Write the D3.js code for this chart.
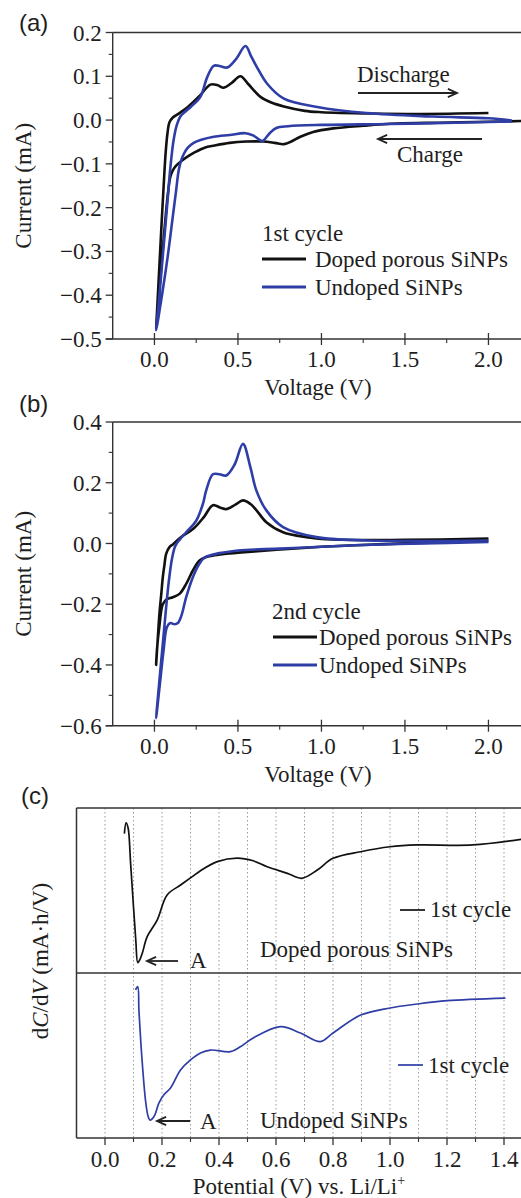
<!DOCTYPE html>
<html>
<head>
<meta charset="utf-8">
<script src="https://cdn.jsdelivr.net/npm/d3@7"></script>
<style>
  body { margin: 0; background: #fff; }
  svg text { font-family: 'Liberation Serif', 'Times New Roman', serif; fill: #1e1e1e; }
  .letter { font-family: 'Liberation Sans', Arial, sans-serif !important; }
</style>
</head>
<body>
<div id="chart"></div>
<script>
// ---- data ----
// CV curves: [voltage V, current mA], cathodic sweep then anodic sweep
const voltTicks = [0, 0.5, 1.0, 1.5, 2.0];
const voltMinor = [0.25, 0.75, 1.25, 1.75];
const aCurrentTicks = [0.2, 0.1, 0.0, -0.1, -0.2, -0.3, -0.4, -0.5];
const aCurrentMinor = [0.15, 0.05, -0.05, -0.15, -0.25, -0.35, -0.45];
const bCurrentTicks = [0.4, 0.2, 0.0, -0.2, -0.4, -0.6];
const bCurrentMinor = [0.3, 0.1, -0.1, -0.3, -0.5];

const aDoped = [
  [2.2,-0.002],[2.0,-0.004],[1.7,-0.006],[1.45,-0.008],[1.25,-0.013],[1.07,-0.019],[0.95,-0.027],
  [0.874,-0.038],[0.82,-0.049],[0.776,-0.055],[0.72,-0.052],[0.65,-0.049],[0.55,-0.049],[0.45,-0.052],
  [0.36,-0.058],[0.3,-0.063],[0.24,-0.074],[0.2,-0.083],[0.16,-0.094],[0.13,-0.104],[0.11,-0.115],
  [0.095,-0.13],[0.08,-0.17],[0.06,-0.25],[0.04,-0.34],[0.02,-0.43],[0.01,-0.475],
  [0.015,-0.44],[0.03,-0.33],[0.045,-0.22],[0.058,-0.13],[0.068,-0.07],[0.078,-0.03],[0.09,-0.005],
  [0.11,0.006],[0.15,0.016],[0.2,0.03],[0.27,0.055],[0.335,0.081],[0.375,0.08],[0.415,0.074],
  [0.46,0.084],[0.515,0.1],[0.56,0.083],[0.635,0.053],[0.7,0.04],[0.775,0.031],[0.9,0.021],
  [1.0,0.018],[1.3,0.015],[1.6,0.014],[2.0,0.016]
];
const aUndoped = [
  [2.14,-0.003],[1.8,-0.006],[1.4,-0.009],[1.0,-0.011],[0.8,-0.014],[0.73,-0.018],[0.69,-0.03],
  [0.66,-0.044],[0.645,-0.048],[0.625,-0.044],[0.59,-0.035],[0.545,-0.03],[0.45,-0.034],[0.355,-0.038],
  [0.28,-0.045],[0.235,-0.052],[0.2,-0.063],[0.175,-0.078],[0.16,-0.092],[0.145,-0.115],[0.13,-0.16],
  [0.11,-0.22],[0.08,-0.31],[0.045,-0.4],[0.01,-0.48],
  [0.025,-0.42],[0.05,-0.31],[0.075,-0.2],[0.095,-0.11],[0.115,-0.045],[0.135,-0.01],[0.155,0.008],
  [0.18,0.018],[0.22,0.031],[0.275,0.053],[0.316,0.098],[0.355,0.124],[0.395,0.123],[0.435,0.12],
  [0.49,0.14],[0.545,0.169],[0.58,0.145],[0.615,0.12],[0.675,0.083],[0.775,0.049],[0.975,0.03],
  [1.27,0.016],[1.67,0.008],[2.0,0.004],[2.14,-0.001]
];
const bDoped = [
  [2.0,0.008],[1.6,0.002],[1.2,-0.006],[1.0,-0.011],[0.8,-0.018],[0.6,-0.026],[0.45,-0.033],
  [0.36,-0.039],[0.31,-0.045],[0.27,-0.056],[0.23,-0.089],[0.19,-0.133],[0.15,-0.166],[0.11,-0.177],
  [0.075,-0.183],[0.05,-0.2],[0.03,-0.27],[0.015,-0.35],[0.01,-0.4],
  [0.018,-0.33],[0.03,-0.23],[0.042,-0.16],[0.05,-0.111],[0.06,-0.07],[0.07,-0.034],[0.09,-0.012],
  [0.11,-0.003],[0.16,0.021],[0.236,0.05],[0.296,0.087],[0.35,0.126],[0.395,0.118],[0.43,0.113],
  [0.485,0.128],[0.53,0.142],[0.575,0.13],[0.61,0.11],[0.67,0.07],[0.77,0.037],[0.91,0.021],
  [1.07,0.013],[1.5,0.012],[2.0,0.016]
];
const bUndoped = [
  [2.0,0.005],[1.6,0.0],[1.2,-0.006],[1.0,-0.011],[0.75,-0.017],[0.5,-0.023],[0.4,-0.031],
  [0.34,-0.038],[0.3,-0.046],[0.27,-0.066],[0.23,-0.111],[0.19,-0.177],[0.16,-0.24],[0.14,-0.262],
  [0.12,-0.266],[0.095,-0.262],[0.075,-0.275],[0.055,-0.35],[0.035,-0.45],[0.01,-0.575],
  [0.025,-0.48],[0.045,-0.36],[0.065,-0.24],[0.085,-0.13],[0.105,-0.05],[0.125,-0.008],[0.15,0.012],
  [0.19,0.037],[0.25,0.075],[0.29,0.13],[0.31,0.175],[0.35,0.228],[0.39,0.228],[0.43,0.224],
  [0.48,0.26],[0.53,0.328],[0.575,0.25],[0.61,0.175],[0.67,0.109],[0.77,0.054],[0.97,0.021],
  [1.27,0.01],[2.0,0.01]
];

// dC/dV curves: [potential V, dC/dV in arbitrary units]
const potTicks = [0, 0.2, 0.4, 0.6, 0.8, 1.0, 1.2, 1.4];
const potMinor = [0.1, 0.3, 0.5, 0.7, 0.9, 1.1, 1.3];
const potGrid = [0, 0.1, 0.2, 0.3, 0.4, 0.5, 0.6, 0.7, 0.8, 0.9, 1.0, 1.1, 1.2, 1.3, 1.4];
const cDoped = [
  [0.068,0.845],[0.074,0.91],[0.081,0.88],[0.09,0.66],[0.1,0.40],[0.108,0.2],[0.115,0.062],
  [0.122,0.08],[0.131,0.121],[0.148,0.22],[0.183,0.321],[0.218,0.473],[0.265,0.533],[0.306,0.584],
  [0.335,0.62],[0.394,0.675],[0.464,0.696],[0.52,0.68],[0.569,0.644],[0.64,0.604],[0.69,0.574],
  [0.745,0.624],[0.8,0.695],[0.897,0.735],[1.0,0.765],[1.095,0.776],[1.29,0.776],[1.46,0.81]
];
const cUndoped = [
  [0.107,0.897],[0.115,0.917],[0.119,0.776],[0.13,0.473],[0.142,0.23],[0.15,0.14],[0.157,0.109],
  [0.165,0.115],[0.175,0.14],[0.189,0.212],[0.206,0.261],[0.23,0.303],[0.265,0.412],[0.3,0.473],
  [0.335,0.515],[0.37,0.533],[0.44,0.523],[0.475,0.553],[0.52,0.606],[0.616,0.675],[0.686,0.636],
  [0.756,0.584],[0.8,0.636],[0.897,0.745],[1.0,0.788],[1.095,0.812],[1.2,0.832],[1.405,0.848]
];

// ---- drawing ----
const W = 521, H = 1198;
const INK = '#333', BLACK = '#111', BLUE = '#2f3ea6';
const FS = 23;

const svg = d3.select('#chart').append('svg')
  .attr('width', W).attr('height', H)
  .attr('role', 'img')
  .attr('aria-label', 'Cyclic voltammetry and dC/dV curves for doped porous and undoped SiNPs');

const defs = svg.append('defs');
const fmt = d3.format('.1f');

function arrow(g, x1, y1, x2, y2) {
  // tip at (x2, y2)
  g.append('line').attr('x1', x1).attr('y1', y1).attr('x2', x2).attr('y2', y2)
    .attr('stroke', '#222').attr('stroke-width', 1.8);
  const a = Math.atan2(y2 - y1, x2 - x1), L = 10, s = 0.42;
  g.append('path')
    .attr('d', `M${x2 - L * Math.cos(a - s)},${y2 - L * Math.sin(a - s)}L${x2},${y2}L${x2 - L * Math.cos(a + s)},${y2 - L * Math.sin(a + s)}`)
    .attr('fill', 'none').attr('stroke', '#222').attr('stroke-width', 1.8);
}

function cvPanel(cfg) {
  const x = d3.scaleLinear().domain([-0.25, 2.25]).range([112.7, 530.2]);
  const y = d3.scaleLinear().domain(cfg.yDomain).range([cfg.bottom, cfg.top]);
  const x0 = x.range()[0];
  const g = svg.append('g');

  defs.append('clipPath').attr('id', cfg.id)
    .append('rect').attr('x', x0).attr('y', cfg.top).attr('width', W - x0).attr('height', cfg.bottom - cfg.top);

  // frame
  g.append('line').attr('x1', x0).attr('x2', W).attr('y1', cfg.top).attr('y2', cfg.top)
    .attr('stroke', INK).attr('stroke-width', 1.4);
  g.append('line').attr('x1', x0).attr('x2', x0).attr('y1', cfg.top).attr('y2', cfg.bottom)
    .attr('stroke', INK).attr('stroke-width', 1.4);
  g.append('line').attr('x1', x0 - 7).attr('x2', W).attr('y1', cfg.bottom).attr('y2', cfg.bottom)
    .attr('stroke', INK).attr('stroke-width', 1.4);

  // y ticks
  g.selectAll('.ymaj').data(cfg.yTicks).enter().append('line')
    .attr('x1', x0 - 7).attr('x2', x0).attr('y1', d => y(d)).attr('y2', d => y(d))
    .attr('stroke', INK).attr('stroke-width', 1.3);
  g.selectAll('.ymin').data(cfg.yMinor).enter().append('line')
    .attr('x1', x0 - 4).attr('x2', x0).attr('y1', d => y(d)).attr('y2', d => y(d))
    .attr('stroke', INK).attr('stroke-width', 1.1);
  g.selectAll('.ylab').data(cfg.yTicks).enter().append('text')
    .attr('x', x0 - 11).attr('y', d => y(d)).attr('dy', '0.35em')
    .attr('text-anchor', 'end').attr('font-size', FS)
    .text(d => fmt(d));

  // x ticks (major ones cross the axis)
  g.selectAll('.xmaj').data(voltTicks).enter().append('line')
    .attr('x1', d => x(d)).attr('x2', d => x(d)).attr('y1', cfg.bottom - 6).attr('y2', cfg.bottom + 6)
    .attr('stroke', INK).attr('stroke-width', 1.3);
  g.selectAll('.xmin').data(voltMinor).enter().append('line')
    .attr('x1', d => x(d)).attr('x2', d => x(d)).attr('y1', cfg.bottom).attr('y2', cfg.bottom + 4)
    .attr('stroke', INK).attr('stroke-width', 1.1);
  g.selectAll('.xlab').data(voltTicks).enter().append('text')
    .attr('x', d => x(d)).attr('y', cfg.bottom + 28)
    .attr('text-anchor', 'middle').attr('font-size', FS)
    .text(d => fmt(d));

  g.append('text').attr('x', 318).attr('y', cfg.bottom + 56)
    .attr('text-anchor', 'middle').attr('font-size', FS).text('Voltage (V)');
  g.append('text')
    .attr('transform', `translate(23,${(cfg.top + cfg.bottom) / 2}) rotate(-90)`)
    .attr('dy', '0.35em').attr('text-anchor', 'middle').attr('font-size', FS)
    .text('Current (mA)');
  g.append('text').attr('class', 'letter').attr('x', 19).attr('y', cfg.letterY)
    .attr('font-size', 24).text(cfg.letter);

  // curves
  const line = d3.line().x(d => x(d[0])).y(d => y(d[1])).curve(d3.curveCatmullRom.alpha(0.5));
  const curves = g.append('g').attr('clip-path', `url(#${cfg.id})`);
  curves.append('path').datum(cfg.doped).attr('d', line)
    .attr('fill', 'none').attr('stroke', BLACK).attr('stroke-width', 2.6).attr('stroke-linejoin', 'round');
  curves.append('path').datum(cfg.undoped).attr('d', line)
    .attr('fill', 'none').attr('stroke', BLUE).attr('stroke-width', 2.6).attr('stroke-linejoin', 'round');

  // legend
  const L = cfg.legend;
  g.append('text').attr('x', L.x).attr('y', L.y).attr('font-size', FS).text(cfg.cycle);
  g.append('line').attr('x1', L.x + L.dx).attr('x2', L.x + L.dx + 44).attr('y1', L.y + 18).attr('y2', L.y + 18)
    .attr('stroke', BLACK).attr('stroke-width', 3);
  g.append('text').attr('x', L.x + L.dx + L.tx).attr('y', L.y + 26).attr('font-size', FS).text('Doped porous SiNPs');
  g.append('line').attr('x1', L.x + L.dx).attr('x2', L.x + L.dx + 44).attr('y1', L.y + 46).attr('y2', L.y + 46)
    .attr('stroke', BLUE).attr('stroke-width', 3);
  g.append('text').attr('x', L.x + L.dx + L.tx).attr('y', L.y + 54).attr('font-size', FS).text('Undoped SiNPs');

  return { g, x, y };
}

const pa = cvPanel({
  id: 'clipA', letter: '(a)', letterY: 31, top: 32.5, bottom: 339,
  yDomain: [-0.5, 0.2], yTicks: aCurrentTicks, yMinor: aCurrentMinor,
  doped: aDoped, undoped: aUndoped, cycle: '1st cycle',
  legend: { x: 262, y: 241, dx: 0, tx: 53 }
});
pa.g.append('text').attr('x', 357).attr('y', 82).attr('font-size', FS).text('Discharge');
arrow(pa.g, 358, 93, 457, 93);
pa.g.append('text').attr('x', 397).attr('y', 162).attr('font-size', FS).text('Charge');
arrow(pa.g, 482, 139, 378, 139);

cvPanel({
  id: 'clipB', letter: '(b)', letterY: 412, top: 422, bottom: 725.7,
  yDomain: [-0.6, 0.4], yTicks: bCurrentTicks, yMinor: bCurrentMinor,
  doped: bDoped, undoped: bUndoped, cycle: '2nd cycle',
  legend: { x: 272, y: 619, dx: 1, tx: 46 }
});

// ---- panel (c) ----
const xc = d3.scaleLinear().domain([-0.1, 1.5]).range([76.5, 532.5]);
const cTop = 808, cMid = 973, cBot = 1138;
const ycTop = d3.scaleLinear().domain([0, 1]).range([cMid, cTop]);
const ycBot = d3.scaleLinear().domain([0, 1]).range([cBot, cMid]);
const gc = svg.append('g');
const cx0 = xc.range()[0];

gc.selectAll('.grid').data(potGrid).enter().append('line')
  .attr('x1', d => xc(d)).attr('x2', d => xc(d)).attr('y1', cTop).attr('y2', cBot)
  .attr('stroke', '#9a9a9a').attr('stroke-width', 1).attr('stroke-dasharray', '1.5,2.5');

[cTop, cMid, cBot].forEach(yy => {
  gc.append('line').attr('x1', cx0).attr('x2', W).attr('y1', yy).attr('y2', yy)
    .attr('stroke', INK).attr('stroke-width', 1.5);
});
gc.append('line').attr('x1', cx0).attr('x2', cx0).attr('y1', cTop).attr('y2', cBot)
  .attr('stroke', INK).attr('stroke-width', 1.5);

gc.selectAll('.cmaj').data(potTicks).enter().append('line')
  .attr('x1', d => xc(d)).attr('x2', d => xc(d)).attr('y1', cBot).attr('y2', cBot + 7)
  .attr('stroke', INK).attr('stroke-width', 1.3);
gc.selectAll('.cmin').data(potMinor).enter().append('line')
  .attr('x1', d => xc(d)).attr('x2', d => xc(d)).attr('y1', cBot).attr('y2', cBot + 4)
  .attr('stroke', INK).attr('stroke-width', 1.1);
gc.selectAll('.clab').data(potTicks).enter().append('text')
  .attr('x', d => xc(d)).attr('y', cBot + 29)
  .attr('text-anchor', 'middle').attr('font-size', FS).text(d => fmt(d));

const xl = gc.append('text').attr('x', 299).attr('y', 1194).attr('text-anchor', 'middle').attr('font-size', FS);
xl.append('tspan').text('Potential (V) vs. Li/Li');
xl.append('tspan').attr('font-size', 14).attr('dy', -9).text('+');

const yl = gc.append('text')
  .attr('transform', `translate(40,961) rotate(-90)`)
  .attr('dy', '0.35em').attr('text-anchor', 'middle').attr('font-size', FS);
yl.append('tspan').text('d');
yl.append('tspan').attr('font-style', 'italic').text('C');
yl.append('tspan').text('/d');
yl.append('tspan').attr('font-style', 'italic').text('V');
yl.append('tspan').text(' (mA\u00b7h/V)');

gc.append('text').attr('class', 'letter').attr('x', 21).attr('y', 804).attr('font-size', 24).text('(c)');

const lineTop = d3.line().x(d => xc(d[0])).y(d => ycTop(d[1])).curve(d3.curveCatmullRom.alpha(0.5));
const lineBot = d3.line().x(d => xc(d[0])).y(d => ycBot(d[1])).curve(d3.curveCatmullRom.alpha(0.5));
gc.append('path').datum(cDoped).attr('d', lineTop)
  .attr('fill', 'none').attr('stroke', BLACK).attr('stroke-width', 1.7);
gc.append('path').datum(cUndoped).attr('d', lineBot)
  .attr('fill', 'none').attr('stroke', BLUE).attr('stroke-width', 1.7);

// annotations
arrow(gc, 178, 961, 147, 961);
gc.append('text').attr('x', 190).attr('y', 968).attr('font-size', FS).text('A');
gc.append('text').attr('x', 260).attr('y', 957).attr('font-size', FS).text('Doped porous SiNPs');
gc.append('line').attr('x1', 400).attr('x2', 425).attr('y1', 910).attr('y2', 910)
  .attr('stroke', BLACK).attr('stroke-width', 1.7);
gc.append('text').attr('x', 430).attr('y', 917).attr('font-size', FS).text('1st cycle');

arrow(gc, 190, 1121, 157, 1121);
gc.append('text').attr('x', 200).attr('y', 1129).attr('font-size', FS).text('A');
gc.append('text').attr('x', 260).attr('y', 1128).attr('font-size', FS).text('Undoped SiNPs');
gc.append('line').attr('x1', 398).attr('x2', 423).attr('y1', 1065).attr('y2', 1065)
  .attr('stroke', BLUE).attr('stroke-width', 1.7);
gc.append('text').attr('x', 428).attr('y', 1073).attr('font-size', FS).text('1st cycle');
</script>
</body>
</html>
